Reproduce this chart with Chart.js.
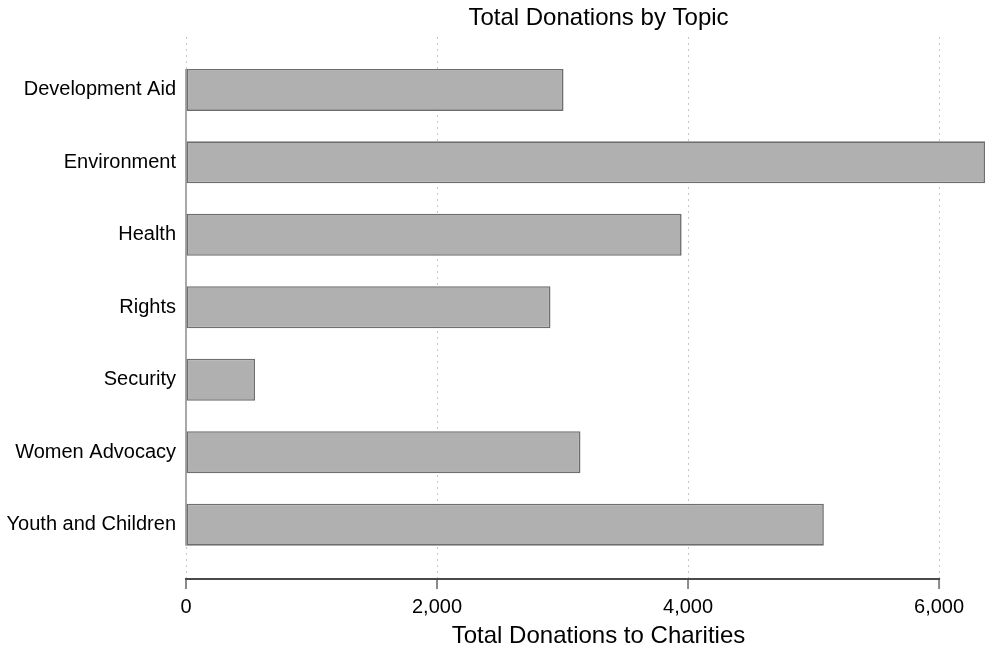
<!DOCTYPE html>
<html>
<head>
<meta charset="utf-8">
<script src="https://cdn.jsdelivr.net/npm/chart.js@4/dist/chart.umd.min.js"></script>
<style>
html,body{margin:0;padding:0;background:#fff;}
#wrap{width:985px;height:652px;position:relative;}
</style>
</head>
<body>
<div id="wrap"><canvas id="c"></canvas></div>
<script>
const categories = ["Development Aid","Environment","Health","Rights","Security","Women Advocacy","Youth and Children"];
const donations = [3008, 6366, 3949, 2904, 550, 3143, 5082];
const xTicks = [0, 2000, 4000, 6000];
const chartTitle = "Total Donations by Topic";
const xTitle = "Total Donations to Charities";

const FONT = "'Liberation Sans', Arial, sans-serif";

const decor = {
  id: 'decor',
  beforeDatasetsDraw(chart) {
    const ctx = chart.ctx;
    const meta = chart.getDatasetMeta(0);
    const xs = chart.scales.x;
    const first = meta.data[0], last = meta.data[meta.data.length - 1];
    const x0 = xs.getPixelForValue(0);
    ctx.save();
    ctx.strokeStyle = '#a8a8a8';
    ctx.lineWidth = 2;
    ctx.beginPath();
    ctx.moveTo(x0, first.y - first.height / 2);
    ctx.lineTo(x0, last.y + last.height / 2);
    ctx.stroke();
    ctx.restore();
  },
  afterDraw(chart) {
    const ctx = chart.ctx;
    const xs = chart.scales.x;
    const ca = chart.chartArea;
    ctx.save();
    // tick marks
    ctx.strokeStyle = '#8a8a8a';
    ctx.lineWidth = 2;
    xTicks.forEach(v => {
      const px = xs.getPixelForValue(v);
      ctx.beginPath();
      ctx.moveTo(px, ca.bottom);
      ctx.lineTo(px, ca.bottom + 10);
      ctx.stroke();
    });
    // axis line from first to last tick
    ctx.strokeStyle = '#4a4a4a';
    ctx.lineWidth = 2;
    ctx.beginPath();
    ctx.moveTo(xs.getPixelForValue(xTicks[0]) - 1, ca.bottom);
    ctx.lineTo(xs.getPixelForValue(xTicks[xTicks.length - 1]) + 1, ca.bottom);
    ctx.stroke();
    // titles
    const cx = ca.left + (ca.right - ca.left) / 2 + 13;
    ctx.fillStyle = '#000';
    ctx.textAlign = 'center';
    ctx.textBaseline = 'middle';
    ctx.font = '24px ' + FONT;
    ctx.fillText(chartTitle, cx, 18);
    ctx.fillText(xTitle, cx, 636);
    ctx.restore();
  }
};

new Chart(document.getElementById('c'), {
  type: 'bar',
  data: {
    datasets: [{
      data: donations.map((v, i) => ({x: v, y: i})),
      backgroundColor: '#b0b0b0',
      borderColor: '#6e6e6e',
      borderWidth: 1.6,
      borderSkipped: false,
      barPercentage: 0.58,
      categoryPercentage: 1.0
    }]
  },
  options: {
    indexAxis: 'y',
    responsive: true,
    maintainAspectRatio: false,
    animation: false,
    layout: {padding: {top: 37, left: 0, right: 0, bottom: 0}},
    plugins: {legend: {display: false}, tooltip: {enabled: false}, title: {display: false}},
    scales: {
      x: {
        type: 'linear',
        min: 0,
        max: 6366,
        afterFit(s) { s.height = 73; },
        afterBuildTicks(s) { s.ticks = xTicks.map(v => ({value: v})); },
        border: {display: false, dash: [2, 4]},
        grid: {
          color: '#c4c4c4',
          lineWidth: 1,
          drawTicks: false
        },
        ticks: {
          color: '#000',
          font: {family: FONT, size: 20},
          padding: 16,
          callback: v => v.toLocaleString('en-US')
        }
      },
      y: {
        type: 'linear',
        offset: false,
        min: -0.73,
        max: 6.75,
        reverse: true,
        afterFit(s) { s.width = 186; },
        afterBuildTicks(s) { s.ticks = categories.map((c, i) => ({value: i})); },
        border: {display: false},
        grid: {display: false, drawTicks: false, offset: false},
        ticks: {
          color: '#000',
          font: {family: FONT, size: 20},
          padding: 10,
          callback: v => categories[v]
        }
      }
    }
  },
  plugins: [decor]
});
</script>
</body>
</html>
